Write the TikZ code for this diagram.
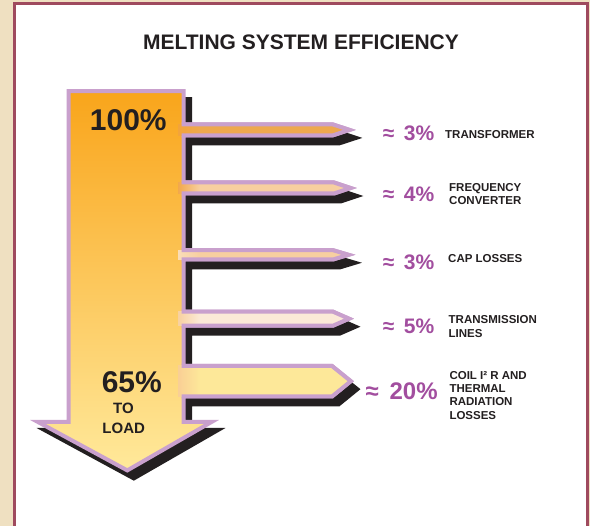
\documentclass[tikz,border=0pt]{standalone}
\usepackage{fontspec}
\setmainfont{Liberation Sans}
\definecolor{ink}{HTML}{231F20}
\definecolor{lilac}{HTML}{C9A0CD}
\definecolor{toporange}{HTML}{F9A51B}
\definecolor{botyellow}{HTML}{FFE99B}
\definecolor{bone}{HTML}{EEA84E}
\definecolor{bonel}{HTML}{F3A43A}
\definecolor{btwo}{HTML}{F7CFA0}
\definecolor{btwol}{HTML}{F2A84C}
\definecolor{bthree}{HTML}{F7CFA0}
\definecolor{bthreel}{HTML}{FADDB8}
\definecolor{bfour}{HTML}{FBE9D7}
\definecolor{bfourl}{HTML}{F8D1A0}
\definecolor{bfive}{HTML}{FDE899}
\definecolor{bfivel}{HTML}{F9CF95}
\definecolor{ptext}{HTML}{A24E9F}
\definecolor{framec}{HTML}{9F4A5E}
\definecolor{beige}{HTML}{EFE0C1}
\tikzset{
  titletext/.style={font=\fontsize{21}{21}\selectfont\bfseries, text=ink, inner sep=0pt, anchor=base},
  bigpct/.style={font=\fontsize{30}{30}\selectfont\bfseries, text=ink, inner sep=0pt, anchor=base},
  loadtext/.style={font=\fontsize{15}{15}\selectfont\bfseries, text=ink, inner sep=0pt, anchor=base},
  pct/.style={font=\fontsize{21}{21}\selectfont\bfseries, text=ptext, inner sep=0pt, anchor=base west},
  pctbig/.style={font=\fontsize{24}{24}\selectfont\bfseries, text=ptext, inner sep=0pt, anchor=base west},
  lbl/.style={font=\fontsize{11.5}{11.5}\selectfont\bfseries, text=ink, inner sep=0pt, anchor=base west},
  outlinestroke/.style={draw=lilac, line width=4pt, line join=miter, miter limit=10},
}
% branch: #1 yt, #2 yb, #3 ym, #4 xh, #5 xt, #6 colour, #7 left colour
\newcommand{\mybranch}[7]{%
  \fill[#6] (178,#1) -- (#4,#1) -- (#5,#3) -- (#4,#2) -- (178,#2) -- cycle;
  \shade[left color=#7, right color=#6] (178,#1) rectangle (200,#2);
  \draw[outlinestroke] (181.5,#1) -- (#4,#1) -- (#5,#3) -- (#4,#2) -- (181.5,#2);
}
\def\mainoutline{(68.7,91.2) -- (183.5,91.2)
  -- (183.5,124.5) -- (333,124.5) -- (349.5,129.9) -- (333,135.3) -- (183.5,135.3)
  -- (183.5,182.5) -- (334,182.5) -- (350.5,188) -- (334,193.5) -- (183.5,193.5)
  -- (183.5,250.2) -- (333,250.2) -- (348.5,254.8) -- (333,259.5) -- (183.5,259.5)
  -- (183.5,311.7) -- (333,311.7) -- (349,318.7) -- (333,325.7) -- (183.5,325.7)
  -- (183.5,366) -- (332,366) -- (350.8,381.2) -- (332,396.5) -- (183.5,396.5)
  -- (183.5,422) -- (211.5,422) -- (127.3,470.4) -- (38,422) -- (68.7,422) -- cycle}
\begin{document}
\begin{tikzpicture}[x=1pt,y=-1pt]
\useasboundingbox (0,0) rectangle (590,526);
\fill[beige] (0,0) rectangle (590,526);
\fill[white] (14.7,3.7) rectangle (587.6,527);
\draw[framec, line width=2.5pt] (14.7,530) -- (14.7,3.7) -- (587.6,3.7) -- (587.6,530);
% shadow
\filldraw[ink, line width=4pt, line join=miter, shift={(6.5,8)}] \mainoutline;
% main arrow
\path[outlinestroke, top color=toporange, bottom color=botyellow] \mainoutline;
% branches
\mybranch{124.5}{135.3}{129.9}{333}{349.5}{bone}{bonel}
\mybranch{182.5}{193.5}{188}{334}{350.5}{btwo}{btwol}
\mybranch{250.2}{259.5}{254.8}{333}{348.5}{bthree}{bthreel}
\mybranch{311.7}{325.7}{318.7}{333}{349}{bfour}{bfourl}
\mybranch{366}{396.5}{381.2}{332}{350.8}{bfive}{bfivel}
% texts
\node[titletext] (title) at (301,49.3) {MELTING SYSTEM EFFICIENCY};
\node[bigpct] (p100) at (128.3,130.5) {100\%};
\node[bigpct] (p65) at (131.8,393) {65\%};
\node[loadtext] (to) at (123.5,413.3) {TO};
\node[loadtext] (load) at (123.7,433.3) {LOAD};
\node[pct] (e1) at (382.7,140.7) {≈\hspace{.45em}3\%};
\node[pct] (e2) at (382.7,201.7) {≈\hspace{.45em}4\%};
\node[pct] (e3) at (382.7,269.3) {≈\hspace{.45em}3\%};
\node[pct] (e4) at (382.7,333.3) {≈\hspace{.45em}5\%};
\node[pctbig] (e5) at (365.5,399.3) {≈\hspace{.45em}20\%};
\node[lbl] (l1) at (445,138.3) {TRANSFORMER};
\node[lbl] (l2a) at (449,192) {FREQUENCY};
\node[lbl] (l2b) at (449,205) {CONVERTER};
\node[lbl] (l3) at (448,262.7) {CAP LOSSES};
\node[lbl] (l4a) at (448.5,324) {TRANSMISSION};
\node[lbl] (l4b) at (448.5,337.3) {LINES};
\node[lbl] (l5a) at (449.3,380) {COIL I² R AND};
\node[lbl] (l5b) at (449.3,392.7) {THERMAL};
\node[lbl] (l5c) at (449.3,406) {RADIATION};
\node[lbl] (l5d) at (449.3,419.3) {LOSSES};
\end{tikzpicture}
\end{document}
